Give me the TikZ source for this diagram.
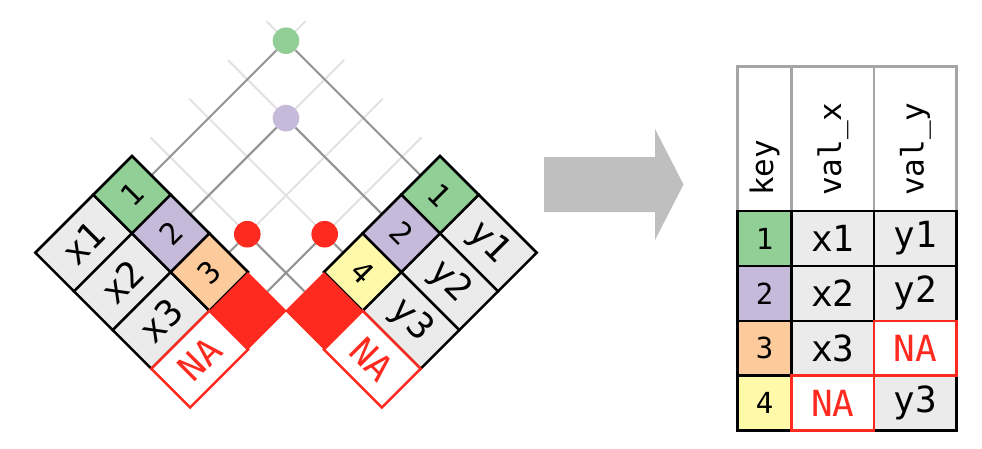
\documentclass[tikz,border=0pt]{standalone}
\usepackage{fontspec}
\setmainfont{DejaVu Sans Mono}
\usetikzlibrary{calc}
\definecolor{kgreen}{HTML}{91CF96}
\definecolor{kpurple}{HTML}{C5BADA}
\definecolor{korange}{HTML}{FDCB9B}
\definecolor{kyellow}{HTML}{FFFAAA}
\definecolor{kred}{HTML}{FE2A1F}
\definecolor{cellgray}{HTML}{EBEBEB}
\definecolor{arrowgray}{HTML}{BFBFBF}
\definecolor{hdrgray}{HTML}{A5A5A5}
\definecolor{darkline}{HTML}{959595}
\definecolor{lightline}{HTML}{E2E2E2}
\begin{document}
\begin{tikzpicture}[x=1pt,y=-1pt,
  cell/.style={draw=black,line width=2.5pt,line join=miter},
  nacell/.style={draw=kred,line width=2.5pt,fill=white,line join=miter},
  keytext/.style={inner sep=0pt,font=\fontsize{30}{32}\selectfont},
  valtext/.style={inner sep=0pt,font=\fontsize{36}{38}\selectfont},
  natext/.style={inner sep=0pt,text=kred,font=\fontsize{36}{38}\selectfont},
  hdrtext/.style={inner sep=0pt,font=\fontsize{31}{33}\selectfont},
  light/.style={draw=lightline,line width=2pt},
  dark/.style={draw=darkline,line width=2pt},
  dot/.style={circle,inner sep=0pt,minimum size=26.6pt,draw=none},
  tcell/.style={draw=black,line width=2.5pt,inner sep=0pt,minimum height=54.9pt},
  tval/.style={tcell,fill=cellgray,font=\fontsize{36}{38}\selectfont},
  tna/.style={draw=kred,line width=2.5pt,inner sep=0pt,minimum height=54.9pt,fill=white,text=kred,font=\fontsize{36}{38}\selectfont}
]
\useasboundingbox (0,0) rectangle (982,448);

% edge midpoints and light-line ends
\foreach \i in {0,1,2,3}{
  \coordinate (M\i) at ({151.35+38.7*\i},{175.35+38.7*\i});
  \coordinate (N\i) at ({420.65-38.7*\i},{175.35+38.7*\i});
  \coordinate (LE\i) at ({305.35+38.7*\i},{21.35+38.7*\i});
  \coordinate (RE\i) at ({266.65-38.7*\i},{21.35+38.7*\i});
}
\foreach \i in {0,1,2,3}{
  \draw[light] (M\i) -- (LE\i);
  \draw[light] (N\i) -- (RE\i);
}

% match dots
\node[dot,fill=kgreen] (g) at (286,40.7) {};
\node[dot,fill=kpurple] (p) at (286,118.1) {};
\node[dot,fill=kred] (r1) at (247.3,234.2) {};
\node[dot,fill=kred] (r2) at (324.7,234.2) {};

\draw[dark] (M0) -- (g);
\draw[dark] (N0) -- (g);
\draw[dark] (M1) -- (p);
\draw[dark] (N1) -- (p);
\draw[dark] (M2) -- (r1);
\draw[dark] (N3) -- (r1);
\draw[dark] (M3) -- (r2);
\draw[dark] (N2) -- (r2);

% left table (rotated)
\foreach \i/\c/\k/\v in {0/kgreen/1/x1,1/kpurple/2/x2,2/korange/3/x3}{
  \coordinate (LT\i) at ({132+38.7*\i},{156+38.7*\i});
  \draw[cell,fill=cellgray] ($(LT\i)+(-38.7,38.7)$) -- ++(38.7,38.7) -- ++(-58,58) -- ++(-38.7,-38.7) -- cycle;
  \draw[cell,fill=\c] (LT\i) -- ++(38.7,38.7) -- ++(-38.7,38.7) -- ++(-38.7,-38.7) -- cycle;
  \node[keytext,rotate=45] (lk\i) at ($(LT\i)+(0,38.7)$) {\k};
  \node[valtext,rotate=45] (lv\i) at ($(LT\i)+(-48.35,87.05)$) {\v};
}
\coordinate (LT3) at (248.1,272.1);
\draw[nacell] ($(LT3)+(-38.7,38.7)$) -- ++(38.7,38.7) -- ++(-58,58) -- ++(-38.7,-38.7) -- cycle;
\node[natext,rotate=45] (lna) at ($(LT3)+(-48.35,87.05)$) {NA};
\fill[kred] (LT3) -- ++(38.7,38.7) -- ++(-38.7,38.7) -- ++(-38.7,-38.7) -- cycle;

% right table (rotated)
\foreach \i/\c/\k/\v in {0/kgreen/1/y1,1/kpurple/2/y2,2/kyellow/4/y3}{
  \coordinate (RT\i) at ({440-38.7*\i},{156+38.7*\i});
  \draw[cell,fill=cellgray] ($(RT\i)+(38.7,38.7)$) -- ++(58,58) -- ++(-38.7,38.7) -- ++(-58,-58) -- cycle;
  \draw[cell,fill=\c] (RT\i) -- ++(38.7,38.7) -- ++(-38.7,38.7) -- ++(-38.7,-38.7) -- cycle;
  \node[keytext,rotate=-45] (rk\i) at ($(RT\i)+(0,38.7)$) {\k};
  \node[valtext,rotate=-45] (rv\i) at ($(RT\i)+(48.35,87.05)$) {\v};
}
\coordinate (RT3) at (323.9,272.1);
\draw[nacell] ($(RT3)+(38.7,38.7)$) -- ++(58,58) -- ++(-38.7,38.7) -- ++(-58,-58) -- cycle;
\node[natext,rotate=-45] (rna) at ($(RT3)+(48.35,87.05)$) {NA};
\fill[kred] (RT3) -- ++(38.7,38.7) -- ++(-38.7,38.7) -- ++(-38.7,-38.7) -- cycle;

% big arrow
\fill[arrowgray] (544,157) -- (655,157) -- (655,129) -- (683.5,184.5) -- (655,240) -- (655,212) -- (544,212) -- cycle;

% result table header
\draw[draw=hdrgray,line width=2.5pt] (737.3,211) -- (737.3,66.7) -- (956.7,66.7) -- (956.7,211);
\draw[draw=hdrgray,line width=2.5pt] (791.7,66.7) -- (791.7,211);
\draw[draw=hdrgray,line width=2.5pt] (874,66.7) -- (874,211);
\node[hdrtext,rotate=90,anchor=west] (hk) at (764.5,196) {key};
\node[hdrtext,rotate=90,anchor=west] (hx) at (832.85,196) {val\_x};
\node[hdrtext,rotate=90,anchor=west] (hy) at (915.35,196) {val\_y};

% result table body
\foreach \r/\c/\k in {0/kgreen/1,1/kpurple/2,2/korange/3,3/kyellow/4}{
  \node[tcell,fill=\c,minimum width=54.4pt,font=\fontsize{29}{31}\selectfont] (tk\r) at (764.5,{238.45+54.9*\r}) {\k};
}
\node[tval,minimum width=82.3pt] (tx0) at (832.85,238.45) {x1};
\node[tval,minimum width=82.3pt] (tx1) at (832.85,293.35) {x2};
\node[tval,minimum width=82.3pt] (tx2) at (832.85,348.25) {x3};
\node[tval,minimum width=82.7pt] (ty0) at (915.35,238.45) {y1};
\node[tval,minimum width=82.7pt] (ty1) at (915.35,293.35) {y2};
\node[tval,minimum width=82.7pt] (ty3) at (915.35,403.15) {y3};
\node[tna,minimum width=82.3pt] (tx3) at (832.85,403.15) {NA};
\node[tna,minimum width=82.7pt] (ty2) at (915.35,348.25) {NA};
\end{tikzpicture}
\end{document}
